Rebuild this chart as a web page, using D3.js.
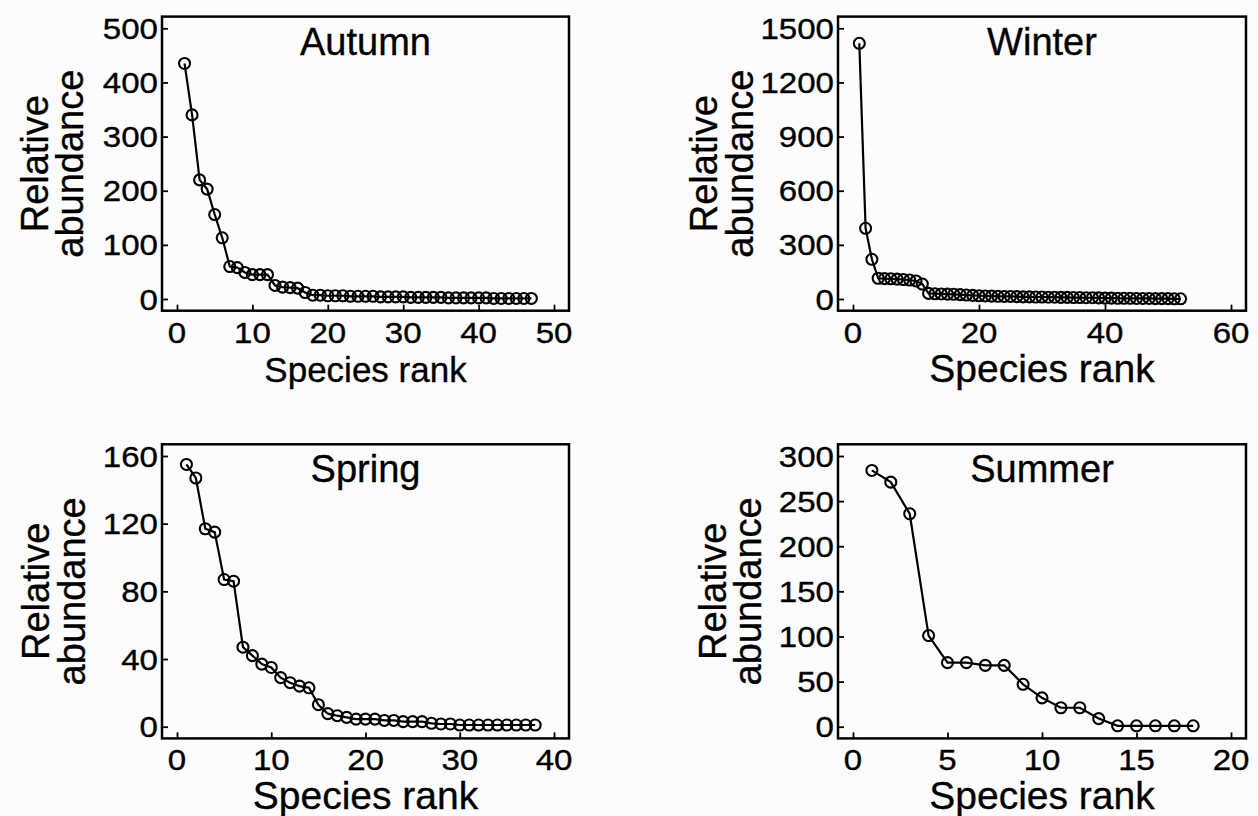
<!DOCTYPE html>
<html>
<head>
<meta charset="utf-8">
<script src="https://cdn.jsdelivr.net/npm/d3@7"></script>
<style>
  body { margin: 0; background: #fcfcfc; }
  svg { display: block; font-family: "Liberation Sans", Arial, Helvetica, sans-serif; }
  text { fill: #000; stroke: #000; stroke-width: 0.35px; }
</style>
</head>
<body>
<svg id="chart" width="1258" height="816"></svg>
<script>
// rank-abundance values
const autumnValues = [435, 340, 220, 203, 156, 113, 60, 58, 49, 45, 45, 45, 25, 22, 21, 20, 12, 7, 7,
  6, 6, 6, 5, 5, 5, 5, 4, 4, 4, 4, 3, 3, 3, 3, 3, 2, 2, 2, 2, 2, 2, 1, 1, 1, 1, 1, 1];
const winterValues = [1417, 392, 220, 115, 113, 112, 110, 108, 105, 100, 83,
  31, 29, 28, 27, 26, 24, 22, 20, 18, 17, 16, 15, 14, 14, 13, 12, 12, 11, 11, 10,
  10, 9, 9, 8, 8, 7, 7, 6, 5, 5, 4, 4, 4, 3, 3, 3, 2, 2, 2, 1, 1];
const springValues = [155, 147, 117, 115, 87, 86, 47, 42, 37, 35, 29, 26, 24, 23, 13, 7.7, 6.5, 5.5, 4.5, 4.5,
  4.5, 3.7, 3.7, 3, 3, 3, 2, 1.6, 1.6, 1, 1, 1, 1, 1, 1, 1, 1, 1];
const summerValues = [284, 271, 236, 101, 71, 71, 68, 68, 47, 32, 21, 21, 9, 1, 1, 1, 1, 1];

const seasons = ["Autumn", "Winter", "Spring", "Summer"];
const xTickSets = [[0, 10, 20, 30, 40, 50], [0, 20, 40, 60], [0, 10, 20, 30, 40], [0, 5, 10, 15, 20]];
const yTickSets = [[0, 100, 200, 300, 400, 500], [0, 300, 600, 900, 1200, 1500],
  [0, 40, 80, 120, 160], [0, 50, 100, 150, 200, 250, 300]];
const seriesList = [autumnValues, winterValues, springValues, summerValues];
const xLabel = "Species rank";
const yLabel = ["Relative", "abundance"];

// layout: tick extents of each column/row, box padding outside them
const cols = [[177, 554], [853, 1231]];
const rows = [[28.3, 299], [456, 726.7]];
const padX = 15, padY = 11.7;
const ylabOffsets = [[-114, -79], [-121, -85], [-113, -77], [-112, -77]];
const xlabSizes = [35, 39, 39, 39];
const stretch = 1.14;

const svg = d3.select("#chart");

seasons.forEach((name, i) => {
  const col = cols[i % 2], row = rows[Math.floor(i / 2)];
  const xTicks = xTickSets[i], yTicks = yTickSets[i];
  const data = seriesList[i].map((v, k) => ({ rank: k + 1, value: v }));

  const x = d3.scaleLinear().domain([0, d3.max(xTicks)]).range(col);
  const y = d3.scaleLinear().domain([0, d3.max(yTicks)]).range([row[1], row[0]]);

  const bx0 = col[0] - padX, bx1 = col[1] + padX;
  const by0 = row[0] - padY, by1 = row[1] + padY;
  const g = svg.append("g");

  // axes with inward ticks
  g.append("g")
    .attr("transform", `translate(0,${by1})`)
    .call(d3.axisBottom(x).tickValues(xTicks).tickSize(-6).tickFormat(""))
    .call(a => a.select(".domain").remove())
    .selectAll("line").attr("stroke", "#000").attr("stroke-width", 1.8);
  g.append("g")
    .attr("transform", `translate(${bx0},0)`)
    .call(d3.axisLeft(y).tickValues(yTicks).tickSize(-6).tickFormat(""))
    .call(a => a.select(".domain").remove())
    .selectAll("line").attr("stroke", "#000").attr("stroke-width", 1.8);

  g.append("rect")
    .attr("x", bx0).attr("y", by0)
    .attr("width", bx1 - bx0).attr("height", by1 - by0)
    .attr("fill", "none").attr("stroke", "#000").attr("stroke-width", 2.5);

  // tick labels
  g.selectAll(".xt").data(xTicks).join("text")
    .attr("transform", d => `translate(${x(d)},${by1 + 32}) scale(${stretch},1)`)
    .attr("text-anchor", "middle")
    .attr("font-size", 29)
    .text(d => d);
  g.selectAll(".yt").data(yTicks).join("text")
    .attr("transform", d => `translate(${bx0 - 4},${y(d) + 10.5}) scale(${stretch},1)`)
    .attr("text-anchor", "end")
    .attr("font-size", 29)
    .text(d => d);

  // axis titles
  g.append("text")
    .attr("x", (bx0 + bx1) / 2).attr("y", by1 + 71)
    .attr("text-anchor", "middle")
    .attr("font-size", xlabSizes[i])
    .text(xLabel);
  const cy = (by0 + by1) / 2;
  yLabel.forEach((t, j) => {
    g.append("text")
      .attr("transform", `translate(${bx0 + ylabOffsets[i][j]},${cy}) rotate(-90)`)
      .attr("text-anchor", "middle")
      .attr("font-size", 38)
      .text(t);
  });

  g.append("text")
    .attr("x", (bx0 + bx1) / 2).attr("y", by0 + 38)
    .attr("text-anchor", "middle")
    .attr("font-size", 38)
    .text(name);

  // series
  g.append("path")
    .datum(data)
    .attr("fill", "none").attr("stroke", "#000").attr("stroke-width", 2.2)
    .attr("d", d3.line().x(d => x(d.rank)).y(d => y(d.value)));
  g.selectAll("circle").data(data).join("circle")
    .attr("cx", d => x(d.rank)).attr("cy", d => y(d.value))
    .attr("r", 5.5)
    .attr("fill", "none").attr("stroke", "#000").attr("stroke-width", 2.1);
});
</script>
</body>
</html>
